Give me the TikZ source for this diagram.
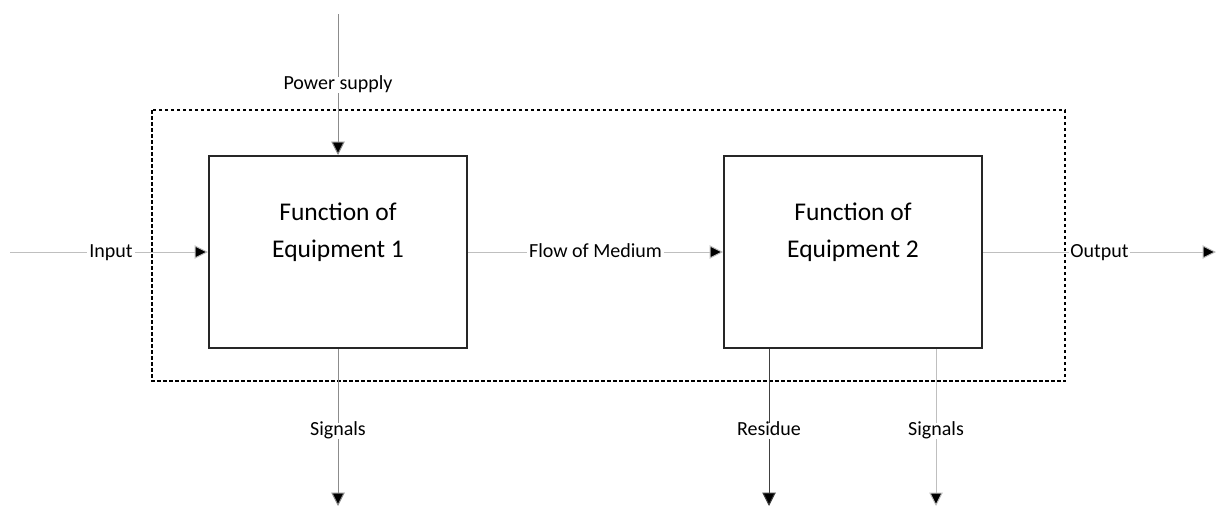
\documentclass[tikz,border=0pt]{standalone}
\usepackage{fontspec}
\setmainfont{Carlito}
\usetikzlibrary{arrows.meta}
\begin{document}
\begin{tikzpicture}[x=1pt,y=-1pt,
  tip/.style={-{Triangle[length=13.5pt,width=13.5pt,fill=black]}},
  flowline/.style={draw=black!25,line width=1pt,tip},
  darkline/.style={draw=black!75,line width=1pt,tip},
  midline/.style={draw=black!45,line width=1pt,tip},
  funcbox/.style={draw=black!85,line width=2pt,minimum width=258pt,minimum height=192pt,inner sep=0pt},
  boxtext/.style={align=center,font=\fontsize{25.5}{37}\selectfont},
  lbl/.style={fill=white,inner xsep=2pt,inner ysep=3pt,text height=10pt,text depth=0pt,font=\fontsize{20}{24}\selectfont}]
\useasboundingbox (0,0) rectangle (1216,506);
% system boundary
\draw[line width=1.5pt,dash pattern=on 3.5pt off 2.5pt] (152,110) rectangle (1065,381);
% equipment blocks
\node[funcbox] (e1) at (338,252) {};
\node[funcbox] (e2) at (853,252) {};
\node[boxtext] (t1) at (338,232) {Function of\\Equipment 1};
\node[boxtext] (t2) at (853,232) {Function of\\Equipment 2};
% free ends of the flows
\coordinate (pwr) at (338,14);
\coordinate (inp) at (10,252);
\coordinate (outp) at (1216,252);
\coordinate (sig1) at (338,506);
\coordinate (res) at (769,506);
\coordinate (sig2) at (936,506);
% flows
\draw[midline] (pwr) -- (e1.north) node[lbl,pos=0.5] {Power supply};
\draw[flowline] (inp) -- (e1.west) node[lbl,pos=0.51] {Input};
\draw[flowline] (e1.east) -- (e2.west) node[lbl,pos=0.5] {Flow of Medium};
\draw[flowline] (e2.east) -- (outp) node[lbl,pos=0.50,inner xsep=1pt] {Output};
\draw[midline] (e1.south) -- (sig1) node[lbl,pos=0.52] {Signals};
\draw[darkline] (e2.south -| res) -- (res) node[lbl,pos=0.52] {Residue};
\draw[flowline] (e2.south -| sig2) -- (sig2) node[lbl,pos=0.52] {Signals};
\end{tikzpicture}
\end{document}
